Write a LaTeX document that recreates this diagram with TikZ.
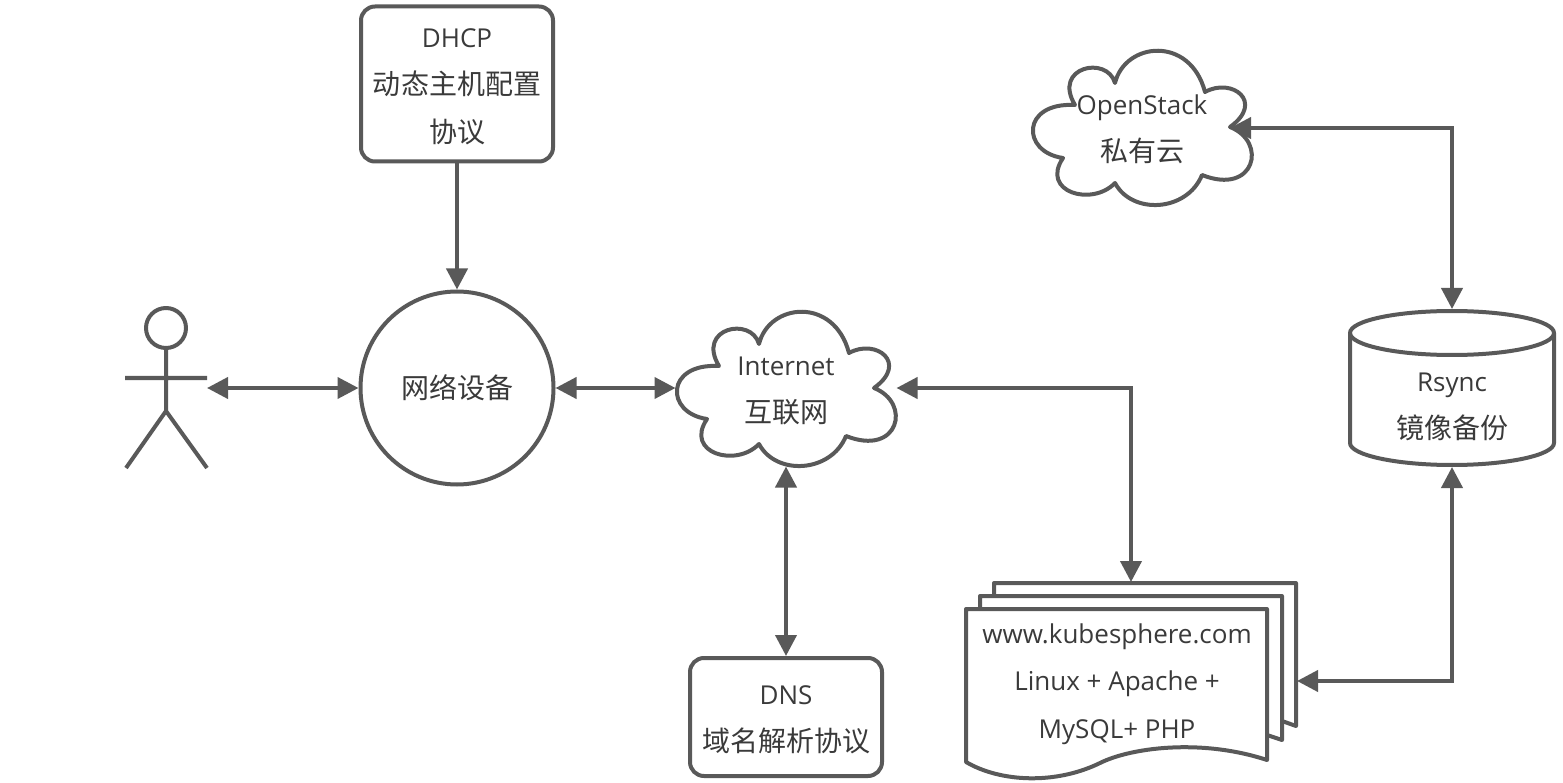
\documentclass[tikz,border=0pt]{standalone}
\usepackage{fontspec}
\usepackage{xcolor}
\usetikzlibrary{arrows.meta, positioning}
\setmainfont{Open Sans}
\newfontfamily\cjk[Scale=1.077]{Noto Sans CJK SC}
\definecolor{linegray}{HTML}{595959}
\definecolor{textgray}{HTML}{3A3A3A}
\newcommand{\topstrut}{\rule{0pt}{24pt}}

\begin{document}
\begin{tikzpicture}[
			x=1pt, y=-1pt,
			every node/.style={align=center, text=textgray, font=\fontsize{26}{47.5}\selectfont, inner sep=0pt},
			outline/.style={draw=linegray, line width=4pt, line join=round},
			roundbox/.style={outline, rounded corners=14pt, minimum width=192pt},
			ghost/.style={outer sep=0pt},
			arrow/.style={{Triangle[length=21pt,width=21pt]}-{Triangle[length=21pt,width=21pt]}, draw=linegray, line width=4pt},
			oneway/.style={-{Triangle[length=21pt,width=21pt]}, draw=linegray, line width=4pt},
			cloudline/.pic={
				\draw [outline] (-67,-22) .. controls (-90,-60) and (-35,-72) .. (-27,-44)
					.. controls (-17,-85) and (48,-92) .. (63,-35)
					.. controls (90,-50) and (123,-25) .. (88,0)
					.. controls (126,15) and (113,69) .. (60,48)
					.. controls (45,85) and (-10,88) .. (-27,56)
					.. controls (-50,80) and (-102,65) .. (-79,31)
					.. controls (-121,25) and (-121,-25) .. (-67,-22) -- cycle;
			}
			]
			\useasboundingbox (0,0) rectangle (1563,783);
			
			% Nodes
			\node (device) [outline, circle, minimum size=193pt] at (457,388) {{\cjk 网络设备}};
			\node (dhcp) [roundbox, minimum height=155pt, above=126pt of device] {\topstrut DHCP\\{\cjk 动态主机配置}\\{\cjk 协议}};
			\node (internet) [ghost, minimum width=221pt, minimum height=157pt, right=120pt of device] {\topstrut Internet\\{\cjk 互联网}};
			\node (dns) [roundbox, minimum height=118pt, below=189.5pt of internet] {\topstrut DNS\\{\cjk 域名解析协议}};
			\node (user) [ghost, minimum width=82pt, minimum height=160pt, left=151.5pt of device] {};
			\node (openstack) [ghost, minimum width=221pt, minimum height=157pt] at (1142,127) {\topstrut OpenStack\\{\cjk 私有云}};
			\node (rsync) [minimum width=204pt, minimum height=154pt, outer sep=2pt] at (1452,388) {};
			\node (rsynctext) [below=-100pt of rsync] {\topstrut Rsync\\{\cjk 镜像备份}};
			\node (web) [ghost, minimum width=332pt, minimum height=198pt] at (1131,681) {};
			\node (webtext) at (1117,682) {\topstrut www.kubesphere.com\\Linux + Apache +\\MySQL+ PHP};
			\coordinate (notch) at ([xshift=88pt,yshift=-1pt]openstack.center);
			
			% Shapes
			\pic at (internet.center) {cloudline};
			\pic at (openstack.center) {cloudline};
			\begin{scope}[shift={(user.center)}]
				\draw [outline] (0,-60) circle [radius=20];
				\draw [outline] (0,-40) -- (0,23) -- (-40,80) (0,23) -- (41,80) (-41,-10) -- (41,-10);
			\end{scope}
			\begin{scope}[shift={(rsync.center)}]
				\draw [outline] (0,-55) ellipse [x radius=102, y radius=22];
				\draw [outline] (-102,-55) -- (-102,55) .. controls (-102,67) and (-56,77) .. (0,77)
					.. controls (56,77) and (102,67) .. (102,55) -- (102,-55);
			\end{scope}
			\begin{scope}[shift={(web.center)}]
				\draw [outline] (-165,-72) -- (-165,81) .. controls (-131,101) and (-76,104) .. (-31,82)
					.. controls (-1,67) and (69,57) .. (136,79) -- (136,-72) -- cycle;
				\draw [outline] (-151,-72) -- (-151,-85) -- (151,-85) -- (151,59) -- (136,54);
				\draw [outline] (-137,-85) -- (-137,-98) -- (165,-98) -- (165,45) -- (151,40);
			\end{scope}
			
			% Connections
			\draw [oneway] (dhcp) -- (device);
			\draw [arrow] (user.east) -- (device.west);
			\draw [arrow] (device) -- (internet);
			\draw [arrow] (internet) -- (dns);
			\draw [arrow] (internet.east) -| (web.north);
			\draw [arrow] (rsync.south) |- (web.east);
			\draw [arrow] (rsync.north) |- (notch);
			
		\end{tikzpicture}
\end{document}
